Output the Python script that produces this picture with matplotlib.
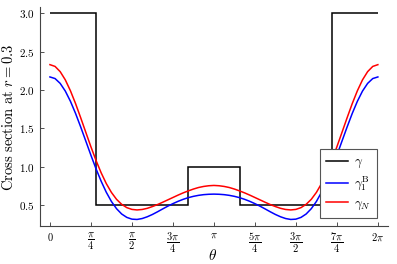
import numpy as np
import matplotlib
matplotlib.use("Agg")
import matplotlib.pyplot as plt

plt.rcParams['mathtext.fontset'] = 'cm'
plt.rcParams['font.family'] = ['DejaVu Serif']

# sample angles: k*pi/32, k = 0..64
theta_k = np.arange(65)
theta = theta_k * np.pi / 32

gamma_N = [2.330, 2.307, 2.239, 2.132, 1.990, 1.823, 1.639, 1.449, 1.260, 1.082,
           0.921, 0.781, 0.666, 0.576, 0.511, 0.468, 0.445, 0.438, 0.444, 0.459,
           0.482, 0.508, 0.538, 0.569, 0.600, 0.631, 0.660, 0.686, 0.710, 0.730,
           0.744, 0.753, 0.757,
           0.753, 0.744, 0.730, 0.710, 0.686, 0.660, 0.631, 0.600, 0.569, 0.538,
           0.508, 0.482, 0.459, 0.444, 0.438, 0.445, 0.468, 0.511, 0.576, 0.666,
           0.781, 0.921, 1.082, 1.260, 1.449, 1.639, 1.823, 1.990, 2.132, 2.239,
           2.307, 2.330]
gamma_B = [2.170, 2.149, 2.086, 1.986, 1.853, 1.695, 1.519, 1.335, 1.150, 0.973,
           0.811, 0.668, 0.548, 0.454, 0.385, 0.341, 0.318, 0.314, 0.326, 0.349,
           0.379, 0.414, 0.451, 0.487, 0.520, 0.550, 0.576, 0.598, 0.615, 0.628,
           0.637, 0.642, 0.644,
           0.642, 0.637, 0.628, 0.615, 0.598, 0.576, 0.550, 0.520, 0.487, 0.451,
           0.414, 0.379, 0.349, 0.326, 0.314, 0.318, 0.341, 0.385, 0.454, 0.548,
           0.668, 0.811, 0.973, 1.150, 1.335, 1.519, 1.695, 1.853, 1.986, 2.086,
           2.149, 2.170]

# piecewise-constant gamma
step_edges = [0.0, 0.88, 2.65, 3.635, 5.41, 2 * np.pi]
step_values = [3.0, 0.5, 1.0, 0.5, 3.0]

xtick_vals = [0, np.pi/4, np.pi/2, 3*np.pi/4, np.pi, 5*np.pi/4, 3*np.pi/2, 7*np.pi/4, 2*np.pi]
xtick_labels = [r'$0$', r'$\dfrac{\pi}{4}$', r'$\dfrac{\pi}{2}$', r'$\dfrac{3\pi}{4}$', r'$\pi$',
                r'$\dfrac{5\pi}{4}$', r'$\dfrac{3\pi}{2}$', r'$\dfrac{7\pi}{4}$', r'$2\pi$']
ytick_vals = [0.5, 1.0, 1.5, 2.0, 2.5, 3.0]
ytick_labels = [r'$0.5$', r'$1.0$', r'$1.5$', r'$2.0$', r'$2.5$', r'$3.0$']

fig = plt.figure(figsize=(3.97, 2.64), dpi=100)
ax = fig.add_axes([0.1008, 0.144, 0.876, 0.8295])

ax.stairs(step_values, step_edges, color='black', lw=1.1, label=r'$\gamma$', baseline=None)
ax.plot(theta, gamma_B, color='#0000ff', lw=1.1, label=r'$\gamma_1^{\mathrm{B}}$')
ax.plot(theta, gamma_N, color='#ff0000', lw=1.1, label=r'$\gamma_N$')

ax.set_xlim(-0.19, 2*np.pi + 0.19)
ax.set_ylim(0.229, 3.081)
ax.set_xticks(xtick_vals)
ax.set_xticklabels(xtick_labels, fontsize=7.5)
ax.set_yticks(ytick_vals)
ax.set_yticklabels(ytick_labels, fontsize=8)
ax.tick_params(direction='in', length=3, width=0.6, color='#333333', pad=4)
ax.tick_params(axis='x', pad=3.5)

for s in ['top', 'right']:
    ax.spines[s].set_visible(False)
for s in ['left', 'bottom']:
    ax.spines[s].set_color('#444444')
    ax.spines[s].set_linewidth(0.8)

fig.text(213 / 397, 1 - 255 / 264, r'$\theta$', fontsize=11, ha='center', va='center')
fig.text(9 / 397, 1 - 117 / 264, r'$\mathrm{Cross\ section\ at\ }r=0.3$', fontsize=10.5,
         rotation=90, ha='center', va='center')

leg = ax.legend(loc='lower right', bbox_to_anchor=(0.968, 0.037), borderaxespad=0,
                fontsize=9.5, frameon=True, fancybox=False, edgecolor='#555555',
                framealpha=1, handlelength=1.7, handletextpad=0.4, borderpad=0.45,
                labelspacing=0.32)
leg.get_frame().set_linewidth(0.8)

fig.savefig('out.png', dpi=100)
